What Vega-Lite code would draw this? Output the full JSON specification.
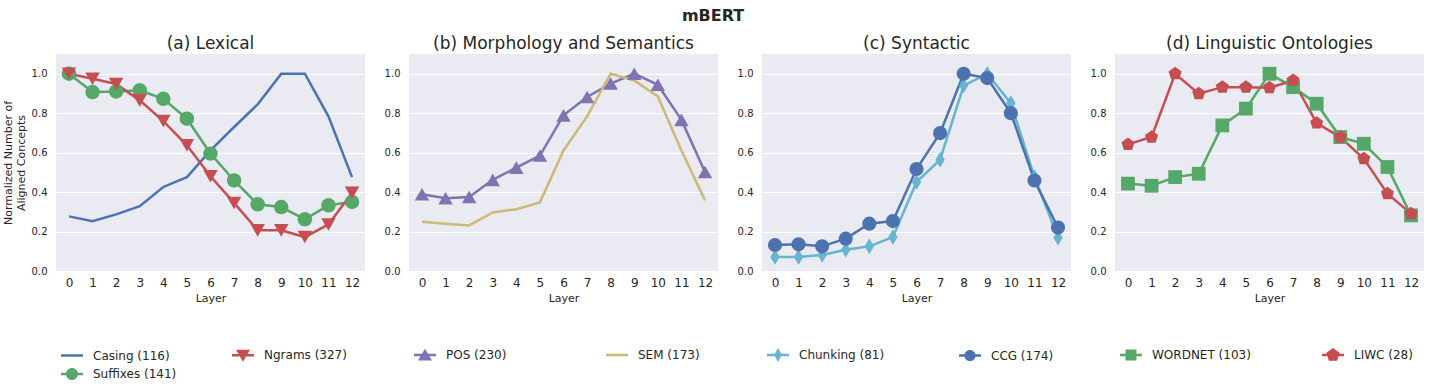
{
  "$schema": "https://vega.github.io/schema/vega-lite/v6.json",
  "padding": {"left": 2, "top": 8, "right": 0, "bottom": 0},
  "title": {"text": "mBERT", "fontSize": 16, "fontWeight": "bold", "anchor": "middle", "color": "#262626", "offset": 11},
  "datasets": {
    "d": [
      {"panel":"a","series":"Casing (116)","layer":0,"value":0.277},{"panel":"a","series":"Casing (116)","layer":1,"value":0.252},{"panel":"a","series":"Casing (116)","layer":2,"value":0.287},{"panel":"a","series":"Casing (116)","layer":3,"value":0.329},{"panel":"a","series":"Casing (116)","layer":4,"value":0.426},{"panel":"a","series":"Casing (116)","layer":5,"value":0.476},{"panel":"a","series":"Casing (116)","layer":6,"value":0.611},{"panel":"a","series":"Casing (116)","layer":7,"value":0.73},{"panel":"a","series":"Casing (116)","layer":8,"value":0.845},{"panel":"a","series":"Casing (116)","layer":9,"value":1.0},{"panel":"a","series":"Casing (116)","layer":10,"value":1.0},{"panel":"a","series":"Casing (116)","layer":11,"value":0.784},{"panel":"a","series":"Casing (116)","layer":12,"value":0.476},
      {"panel":"a","series":"Suffixes (141)","layer":0,"value":1.0},{"panel":"a","series":"Suffixes (141)","layer":1,"value":0.907},{"panel":"a","series":"Suffixes (141)","layer":2,"value":0.91},{"panel":"a","series":"Suffixes (141)","layer":3,"value":0.916},{"panel":"a","series":"Suffixes (141)","layer":4,"value":0.873},{"panel":"a","series":"Suffixes (141)","layer":5,"value":0.772},{"panel":"a","series":"Suffixes (141)","layer":6,"value":0.595},{"panel":"a","series":"Suffixes (141)","layer":7,"value":0.459},{"panel":"a","series":"Suffixes (141)","layer":8,"value":0.338},{"panel":"a","series":"Suffixes (141)","layer":9,"value":0.324},{"panel":"a","series":"Suffixes (141)","layer":10,"value":0.262},{"panel":"a","series":"Suffixes (141)","layer":11,"value":0.333},{"panel":"a","series":"Suffixes (141)","layer":12,"value":0.35},
      {"panel":"a","series":"Ngrams (327)","layer":0,"value":1.0},{"panel":"a","series":"Ngrams (327)","layer":1,"value":0.975},{"panel":"a","series":"Ngrams (327)","layer":2,"value":0.948},{"panel":"a","series":"Ngrams (327)","layer":3,"value":0.865},{"panel":"a","series":"Ngrams (327)","layer":4,"value":0.76},{"panel":"a","series":"Ngrams (327)","layer":5,"value":0.637},{"panel":"a","series":"Ngrams (327)","layer":6,"value":0.48},{"panel":"a","series":"Ngrams (327)","layer":7,"value":0.345},{"panel":"a","series":"Ngrams (327)","layer":8,"value":0.206},{"panel":"a","series":"Ngrams (327)","layer":9,"value":0.206},{"panel":"a","series":"Ngrams (327)","layer":10,"value":0.172},{"panel":"a","series":"Ngrams (327)","layer":11,"value":0.236},{"panel":"a","series":"Ngrams (327)","layer":12,"value":0.397},
      {"panel":"b","series":"POS (230)","layer":0,"value":0.389},{"panel":"b","series":"POS (230)","layer":1,"value":0.369},{"panel":"b","series":"POS (230)","layer":2,"value":0.375},{"panel":"b","series":"POS (230)","layer":3,"value":0.462},{"panel":"b","series":"POS (230)","layer":4,"value":0.524},{"panel":"b","series":"POS (230)","layer":5,"value":0.585},{"panel":"b","series":"POS (230)","layer":6,"value":0.789},{"panel":"b","series":"POS (230)","layer":7,"value":0.882},{"panel":"b","series":"POS (230)","layer":8,"value":0.95},{"panel":"b","series":"POS (230)","layer":9,"value":1.0},{"panel":"b","series":"POS (230)","layer":10,"value":0.944},{"panel":"b","series":"POS (230)","layer":11,"value":0.766},{"panel":"b","series":"POS (230)","layer":12,"value":0.502},
      {"panel":"b","series":"SEM (173)","layer":0,"value":0.25},{"panel":"b","series":"SEM (173)","layer":1,"value":0.24},{"panel":"b","series":"SEM (173)","layer":2,"value":0.231},{"panel":"b","series":"SEM (173)","layer":3,"value":0.297},{"panel":"b","series":"SEM (173)","layer":4,"value":0.313},{"panel":"b","series":"SEM (173)","layer":5,"value":0.348},{"panel":"b","series":"SEM (173)","layer":6,"value":0.611},{"panel":"b","series":"SEM (173)","layer":7,"value":0.784},{"panel":"b","series":"SEM (173)","layer":8,"value":1.0},{"panel":"b","series":"SEM (173)","layer":9,"value":0.966},{"panel":"b","series":"SEM (173)","layer":10,"value":0.885},{"panel":"b","series":"SEM (173)","layer":11,"value":0.611},{"panel":"b","series":"SEM (173)","layer":12,"value":0.358},
      {"panel":"c","series":"Chunking (81)","layer":0,"value":0.071},{"panel":"c","series":"Chunking (81)","layer":1,"value":0.071},{"panel":"c","series":"Chunking (81)","layer":2,"value":0.081},{"panel":"c","series":"Chunking (81)","layer":3,"value":0.108},{"panel":"c","series":"Chunking (81)","layer":4,"value":0.125},{"panel":"c","series":"Chunking (81)","layer":5,"value":0.172},{"panel":"c","series":"Chunking (81)","layer":6,"value":0.451},{"panel":"c","series":"Chunking (81)","layer":7,"value":0.564},{"panel":"c","series":"Chunking (81)","layer":8,"value":0.94},{"panel":"c","series":"Chunking (81)","layer":9,"value":1.0},{"panel":"c","series":"Chunking (81)","layer":10,"value":0.851},{"panel":"c","series":"Chunking (81)","layer":11,"value":0.476},{"panel":"c","series":"Chunking (81)","layer":12,"value":0.169},
      {"panel":"c","series":"CCG (174)","layer":0,"value":0.132},{"panel":"c","series":"CCG (174)","layer":1,"value":0.135},{"panel":"c","series":"CCG (174)","layer":2,"value":0.125},{"panel":"c","series":"CCG (174)","layer":3,"value":0.164},{"panel":"c","series":"CCG (174)","layer":4,"value":0.24},{"panel":"c","series":"CCG (174)","layer":5,"value":0.253},{"panel":"c","series":"CCG (174)","layer":6,"value":0.517},{"panel":"c","series":"CCG (174)","layer":7,"value":0.699},{"panel":"c","series":"CCG (174)","layer":8,"value":1.0},{"panel":"c","series":"CCG (174)","layer":9,"value":0.978},{"panel":"c","series":"CCG (174)","layer":10,"value":0.8},{"panel":"c","series":"CCG (174)","layer":11,"value":0.459},{"panel":"c","series":"CCG (174)","layer":12,"value":0.22},
      {"panel":"d","series":"WORDNET (103)","layer":0,"value":0.443},{"panel":"d","series":"WORDNET (103)","layer":1,"value":0.432},{"panel":"d","series":"WORDNET (103)","layer":2,"value":0.476},{"panel":"d","series":"WORDNET (103)","layer":3,"value":0.493},{"panel":"d","series":"WORDNET (103)","layer":4,"value":0.738},{"panel":"d","series":"WORDNET (103)","layer":5,"value":0.823},{"panel":"d","series":"WORDNET (103)","layer":6,"value":1.0},{"panel":"d","series":"WORDNET (103)","layer":7,"value":0.932},{"panel":"d","series":"WORDNET (103)","layer":8,"value":0.848},{"panel":"d","series":"WORDNET (103)","layer":9,"value":0.679},{"panel":"d","series":"WORDNET (103)","layer":10,"value":0.645},{"panel":"d","series":"WORDNET (103)","layer":11,"value":0.527},{"panel":"d","series":"WORDNET (103)","layer":12,"value":0.282},
      {"panel":"d","series":"LIWC (28)","layer":0,"value":0.642},{"panel":"d","series":"LIWC (28)","layer":1,"value":0.679},{"panel":"d","series":"LIWC (28)","layer":2,"value":1.0},{"panel":"d","series":"LIWC (28)","layer":3,"value":0.899},{"panel":"d","series":"LIWC (28)","layer":4,"value":0.932},{"panel":"d","series":"LIWC (28)","layer":5,"value":0.932},{"panel":"d","series":"LIWC (28)","layer":6,"value":0.929},{"panel":"d","series":"LIWC (28)","layer":7,"value":0.966},{"panel":"d","series":"LIWC (28)","layer":8,"value":0.75},{"panel":"d","series":"LIWC (28)","layer":9,"value":0.679},{"panel":"d","series":"LIWC (28)","layer":10,"value":0.569},{"panel":"d","series":"LIWC (28)","layer":11,"value":0.392},{"panel":"d","series":"LIWC (28)","layer":12,"value":0.291}
    ]
  },
  "data": {"name": "d"},
  "spacing": 19,
  "resolve": {"scale": {"color": "independent", "x": "independent", "y": "independent"}, "legend": {"color": "independent"}},
  "hconcat": [
    {
      "width": 309, "height": 217,
      "title": {"text": "(a) Lexical"},
      "transform": [{"filter": "datum.panel === 'a'"}],
      "encoding": {
        "x": {"field": "layer", "type": "ordinal", "scale": {"type": "point", "padding": 0.55}, "axis": {"title": "Layer", "labelAngle": 0}},
        "y": {"field": "value", "type": "quantitative", "scale": {"domain": [0, 1.1], "nice": false}, "axis": {"title": ["Normalized Number of", "Aligned Concepts"], "values": [0, 0.2, 0.4, 0.6, 0.8, 1.0], "format": ".1f"}},
        "color": {"field": "series", "type": "nominal", "scale": {"domain": ["Casing (116)", "Suffixes (141)", "Ngrams (327)"], "range": ["#4C72B0", "#55A868", "#C44E52"]},
          "legend": {"orient": "none", "legendX": 9, "legendY": 294, "columns": 2, "columnPadding": 55, "rowPadding": 5, "title": null, "symbolSize": 196, "labelOffset": 14,
            "encode": {"symbols": {"update": {
              "shape": {"signal": "datum.value === 'Ngrams (327)' ? 'M-1.57,-0.18H1.57V0.18H-1.57Z M-1,-0.8L1,-0.8L0,0.9Z' : datum.value === 'Suffixes (141)' ? 'M-1.57,-0.18H1.57V0.18H-1.57Z M-0.86,0A0.86,0.86 0 1,1 0.86,0A0.86,0.86 0 1,1 -0.86,0Z' : 'M-1.57,-0.18H1.57V0.18H-1.57Z'"},
              "fill": {"signal": "datum.value === 'Ngrams (327)' ? '#C44E52' : datum.value === 'Suffixes (141)' ? '#55A868' : '#4C72B0'"},
              "stroke": {"value": "transparent"}, "strokeWidth": {"value": 0}, "opacity": {"value": 1}, "fillOpacity": {"value": 1}, "size": {"value": 196}}}}}}
      },
      "layer": [
        {"mark": {"type": "line", "strokeWidth": 2.5}},
        {"transform": [{"filter": "datum.series === 'Suffixes (141)'"}],
         "mark": {"type": "point", "filled": true, "opacity": 1, "size": 210, "shape": "circle"}},
        {"transform": [{"filter": "datum.series === 'Ngrams (327)'"}],
         "mark": {"type": "point", "filled": true, "opacity": 1, "size": 210, "shape": "triangle-down"}}
      ]
    },
    {
      "width": 309, "height": 217,
      "title": {"text": "(b) Morphology and Semantics"},
      "transform": [{"filter": "datum.panel === 'b'"}],
      "encoding": {
        "x": {"field": "layer", "type": "ordinal", "scale": {"type": "point", "padding": 0.55}, "axis": {"title": "Layer", "labelAngle": 0}},
        "y": {"field": "value", "type": "quantitative", "scale": {"domain": [0, 1.1], "nice": false}, "axis": {"title": null, "values": [0, 0.2, 0.4, 0.6, 0.8, 1.0], "format": ".1f"}},
        "color": {"field": "series", "type": "nominal", "scale": {"domain": ["POS (230)", "SEM (173)"], "range": ["#8172B2", "#CCB974"]},
          "legend": {"orient": "none", "legendX": 9, "legendY": 294, "columns": 2, "columnPadding": 99, "rowPadding": 5, "title": null, "symbolSize": 196, "labelOffset": 14,
            "encode": {"symbols": {"update": {
              "shape": {"signal": "datum.value === 'POS (230)' ? 'M-1.57,-0.18H1.57V0.18H-1.57Z M0,-0.9L1,0.8L-1,0.8Z' : 'M-1.57,-0.18H1.57V0.18H-1.57Z'"},
              "fill": {"signal": "datum.value === 'POS (230)' ? '#8172B2' : '#CCB974'"},
              "stroke": {"value": "transparent"}, "strokeWidth": {"value": 0}, "opacity": {"value": 1}, "fillOpacity": {"value": 1}, "size": {"value": 196}}}}}}
      },
      "layer": [
        {"mark": {"type": "line", "strokeWidth": 2.5}},
        {"transform": [{"filter": "datum.series === 'POS (230)'"}],
         "mark": {"type": "point", "filled": true, "opacity": 1, "size": 210, "shape": "triangle-up"}}
      ]
    },
    {
      "width": 309, "height": 217,
      "title": {"text": "(c) Syntactic"},
      "transform": [{"filter": "datum.panel === 'c'"}],
      "encoding": {
        "x": {"field": "layer", "type": "ordinal", "scale": {"type": "point", "padding": 0.55}, "axis": {"title": "Layer", "labelAngle": 0}},
        "y": {"field": "value", "type": "quantitative", "scale": {"domain": [0, 1.1], "nice": false}, "axis": {"title": null, "values": [0, 0.2, 0.4, 0.6, 0.8, 1.0], "format": ".1f"}},
        "color": {"field": "series", "type": "nominal", "scale": {"domain": ["Chunking (81)", "CCG (174)"], "range": ["#64B5CD", "#4C72B0"]},
          "legend": {"orient": "none", "legendX": 9, "legendY": 294, "columns": 2, "columnPadding": 74, "rowPadding": 5, "title": null, "symbolSize": 196, "labelOffset": 14,
            "encode": {"symbols": {"update": {
              "shape": {"signal": "datum.value === 'Chunking (81)' ? 'M-1.57,-0.18H1.57V0.18H-1.57Z M0,-1L0.55,0L0,1L-0.55,0Z' : 'M-1.57,-0.18H1.57V0.18H-1.57Z M-0.8,0A0.8,0.8 0 1,1 0.8,0A0.8,0.8 0 1,1 -0.8,0Z'"},
              "fill": {"signal": "datum.value === 'Chunking (81)' ? '#64B5CD' : '#4C72B0'"},
              "stroke": {"value": "transparent"}, "strokeWidth": {"value": 0}, "opacity": {"value": 1}, "fillOpacity": {"value": 1}, "size": {"value": 196}}}}}}
      },
      "layer": [
        {"mark": {"type": "line", "strokeWidth": 2.5}},
        {"transform": [{"filter": "datum.series === 'Chunking (81)'"}],
         "mark": {"type": "point", "filled": true, "opacity": 1, "size": 240, "shape": "M0,-1L0.6,0L0,1L-0.6,0Z"}},
        {"transform": [{"filter": "datum.series === 'CCG (174)'"}],
         "mark": {"type": "point", "filled": true, "opacity": 1, "size": 200, "shape": "circle"}}
      ]
    },
    {
      "width": 309, "height": 217,
      "title": {"text": "(d) Linguistic Ontologies"},
      "transform": [{"filter": "datum.panel === 'd'"}],
      "encoding": {
        "x": {"field": "layer", "type": "ordinal", "scale": {"type": "point", "padding": 0.55}, "axis": {"title": "Layer", "labelAngle": 0}},
        "y": {"field": "value", "type": "quantitative", "scale": {"domain": [0, 1.1], "nice": false}, "axis": {"title": null, "values": [0, 0.2, 0.4, 0.6, 0.8, 1.0], "format": ".1f"}},
        "color": {"field": "series", "type": "nominal", "scale": {"domain": ["WORDNET (103)", "LIWC (28)"], "range": ["#55A868", "#C44E52"]},
          "legend": {"orient": "none", "legendX": 9, "legendY": 294, "columns": 2, "columnPadding": 71, "rowPadding": 5, "title": null, "symbolSize": 196, "labelOffset": 14,
            "encode": {"symbols": {"update": {
              "shape": {"signal": "datum.value === 'WORDNET (103)' ? 'M-1.57,-0.18H1.57V0.18H-1.57Z M-0.78,-0.78H0.78V0.78H-0.78Z' : 'M-1.57,-0.18H1.57V0.18H-1.57Z M0,-1L0.951,-0.309L0.588,0.809L-0.588,0.809L-0.951,-0.309Z'"},
              "fill": {"signal": "datum.value === 'WORDNET (103)' ? '#55A868' : '#C44E52'"},
              "stroke": {"value": "transparent"}, "strokeWidth": {"value": 0}, "opacity": {"value": 1}, "fillOpacity": {"value": 1}, "size": {"value": 196}}}}}}
      },
      "layer": [
        {"mark": {"type": "line", "strokeWidth": 2.5}},
        {"transform": [{"filter": "datum.series === 'WORDNET (103)'"}],
         "mark": {"type": "point", "filled": true, "opacity": 1, "size": 190, "shape": "square"}},
        {"transform": [{"filter": "datum.series === 'LIWC (28)'"}],
         "mark": {"type": "point", "filled": true, "opacity": 1, "size": 190, "shape": "M0,-1L0.951,-0.309L0.588,0.809L-0.588,0.809L-0.951,-0.309Z"}}
      ]
    }
  ],
  "config": {
    "font": "DejaVu Sans",
    "view": {"fill": "#EAEAF2", "stroke": null},
    "title": {"fontSize": 17, "fontWeight": "normal", "color": "#262626", "offset": 1},
    "axis": {"domain": false, "ticks": false, "labelColor": "#262626", "titleColor": "#262626", "titleFontWeight": "normal", "titleFontSize": 11, "gridColor": "#FFFFFF", "gridWidth": 1},
    "axisX": {"grid": false, "labelFontSize": 12, "labelPadding": 6, "titlePadding": 4},
    "axisY": {"grid": true, "labelFontSize": 10, "labelPadding": 9, "titlePadding": 5},
    "legend": {"labelFontSize": 12, "labelColor": "#262626", "padding": 0}
  }
}
